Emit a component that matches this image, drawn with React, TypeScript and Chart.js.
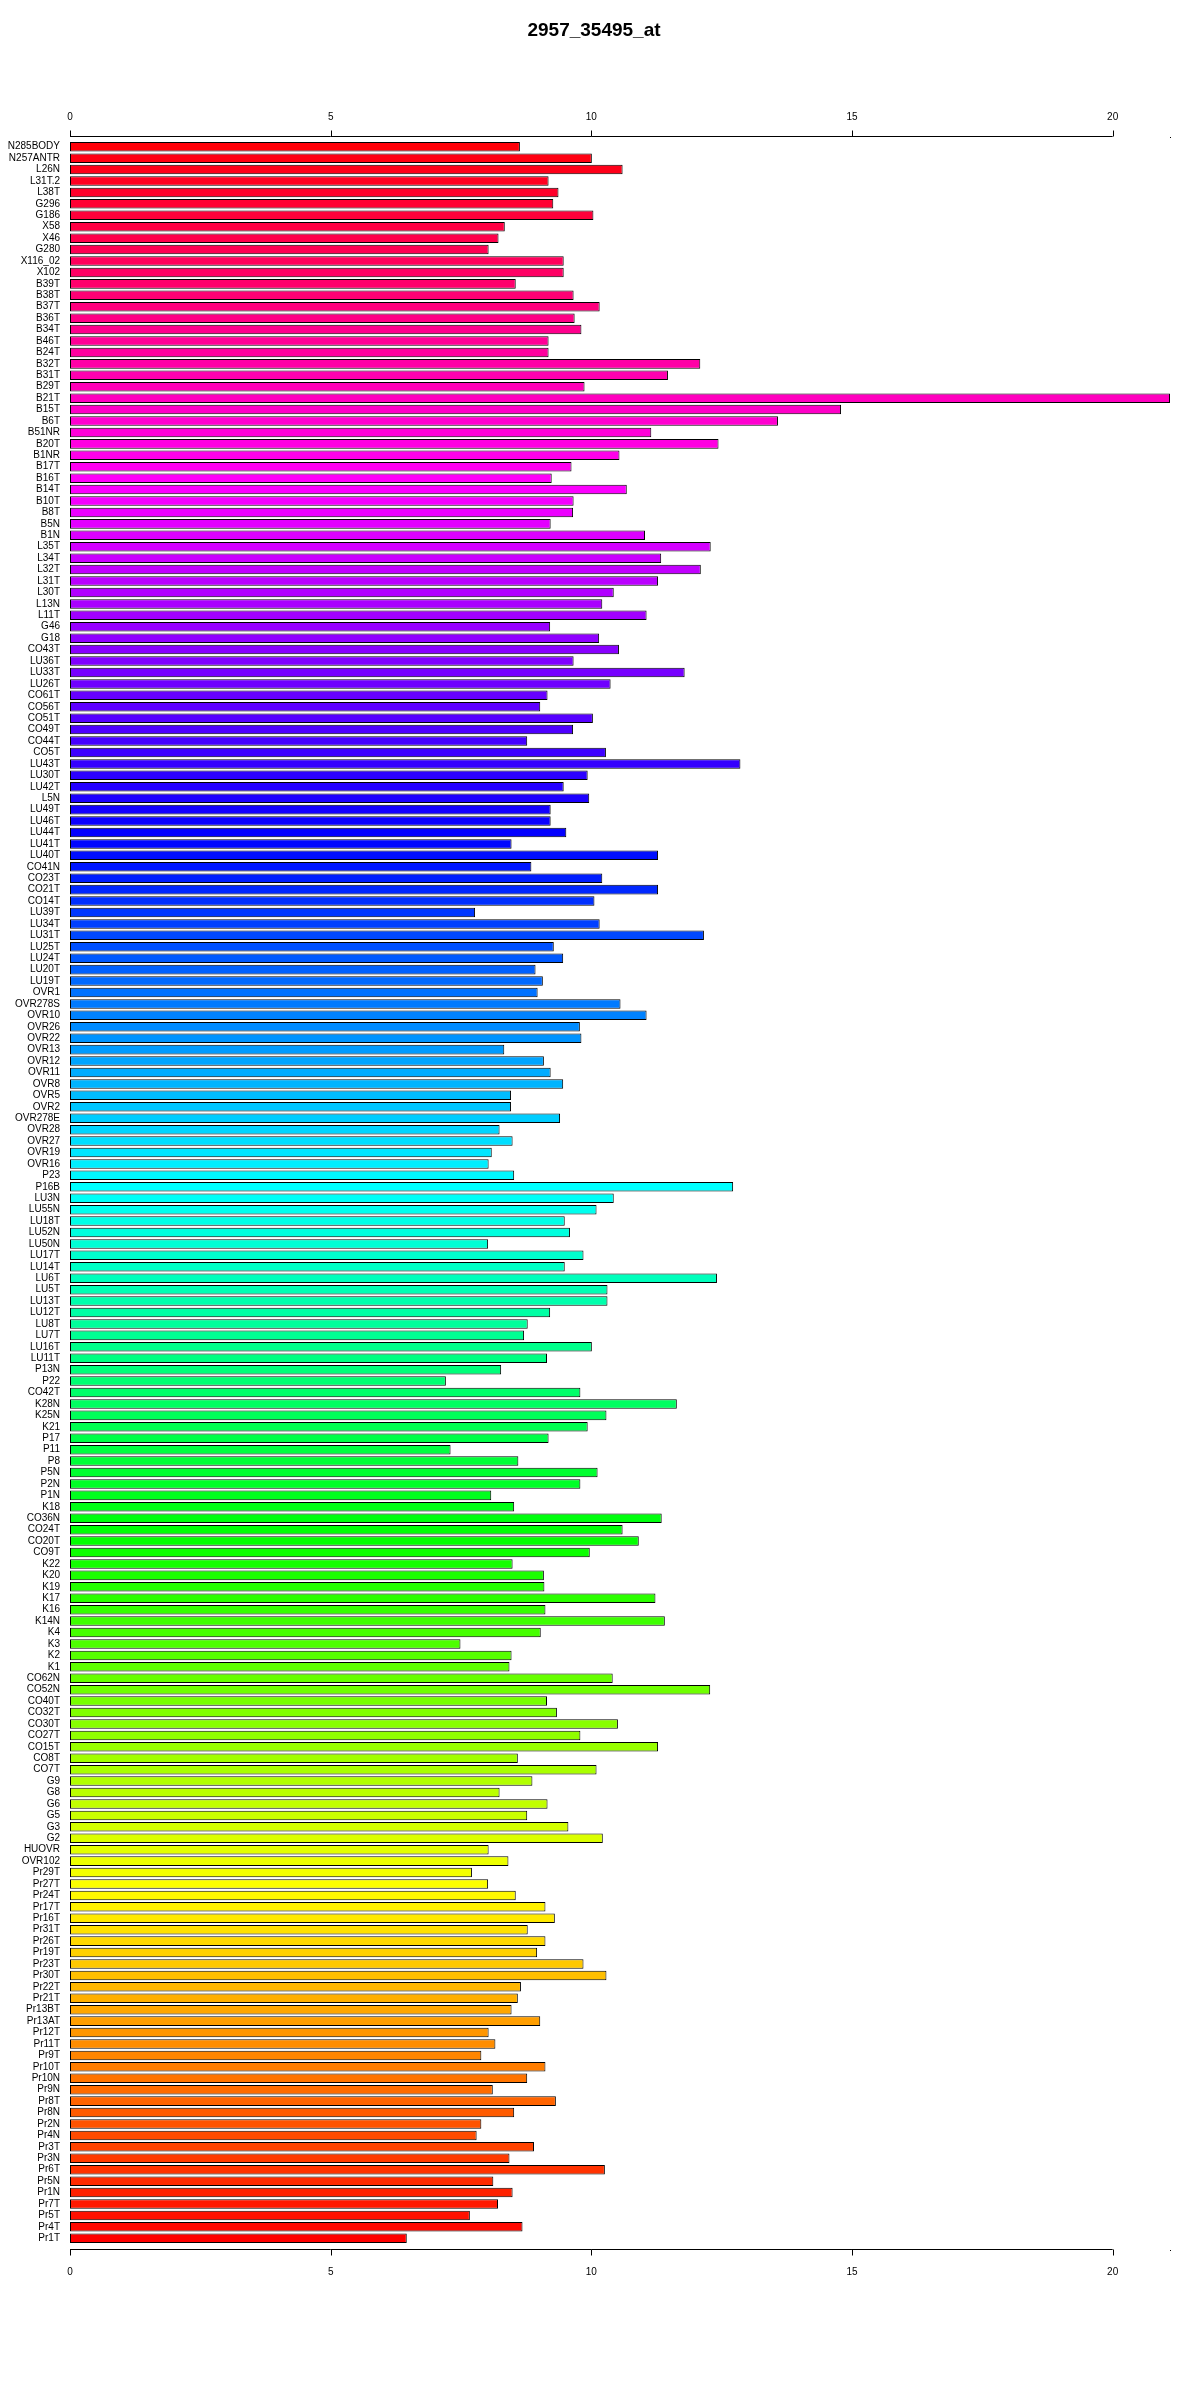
import React, { useEffect, useRef } from "react";
import { Chart, registerables } from "chart.js";

Chart.register(...registerables);

const chartTitle = "2957_35495_at";

const categories: string[] = [
  "N285BODY", "N257ANTR", "L26N", "L31T.2", "L38T", "G296", "G186", "X58", "X46", "G280",
  "X116_02", "X102", "B39T", "B38T", "B37T", "B36T", "B34T", "B46T", "B24T", "B32T",
  "B31T", "B29T", "B21T", "B15T", "B6T", "B51NR", "B20T", "B1NR", "B17T", "B16T",
  "B14T", "B10T", "B8T", "B5N", "B1N", "L35T", "L34T", "L32T", "L31T", "L30T",
  "L13N", "L11T", "G46", "G18", "CO43T", "LU36T", "LU33T", "LU26T", "CO61T", "CO56T",
  "CO51T", "CO49T", "CO44T", "CO5T", "LU43T", "LU30T", "LU42T", "L5N", "LU49T", "LU46T",
  "LU44T", "LU41T", "LU40T", "CO41N", "CO23T", "CO21T", "CO14T", "LU39T", "LU34T", "LU31T",
  "LU25T", "LU24T", "LU20T", "LU19T", "OVR1", "OVR278S", "OVR10", "OVR26", "OVR22", "OVR13",
  "OVR12", "OVR11", "OVR8", "OVR5", "OVR2", "OVR278E", "OVR28", "OVR27", "OVR19", "OVR16",
  "P23", "P16B", "LU3N", "LU55N", "LU18T", "LU52N", "LU50N", "LU17T", "LU14T", "LU6T",
  "LU5T", "LU13T", "LU12T", "LU8T", "LU7T", "LU16T", "LU11T", "P13N", "P22", "CO42T",
  "K28N", "K25N", "K21", "P17", "P11", "P8", "P5N", "P2N", "P1N", "K18",
  "CO36N", "CO24T", "CO20T", "CO9T", "K22", "K20", "K19", "K17", "K16", "K14N",
  "K4", "K3", "K2", "K1", "CO62N", "CO52N", "CO40T", "CO32T", "CO30T", "CO27T",
  "CO15T", "CO8T", "CO7T", "G9", "G8", "G6", "G5", "G3", "G2", "HUOVR",
  "OVR102", "Pr29T", "Pr27T", "Pr24T", "Pr17T", "Pr16T", "Pr31T", "Pr26T", "Pr19T", "Pr23T",
  "Pr30T", "Pr22T", "Pr21T", "Pr13BT", "Pr13AT", "Pr12T", "Pr11T", "Pr9T", "Pr10T", "Pr10N",
  "Pr9N", "Pr8T", "Pr8N", "Pr2N", "Pr4N", "Pr3T", "Pr3N", "Pr6T", "Pr5N", "Pr1N",
  "Pr7T", "Pr5T", "Pr4T", "Pr1T",
];

const expressionValues: number[] = [
  8.63, 10.01, 10.6, 9.18, 9.37, 9.27, 10.04, 8.34, 8.22, 8.03,
  9.47, 9.47, 8.55, 9.66, 10.16, 9.68, 9.81, 9.18, 9.18, 12.09,
  11.47, 9.87, 21.1, 14.79, 13.58, 11.15, 12.44, 10.54, 9.62, 9.24,
  10.68, 9.66, 9.65, 9.22, 11.03, 12.29, 11.34, 12.1, 11.28, 10.43,
  10.21, 11.06, 9.21, 10.15, 10.53, 9.66, 11.79, 10.37, 9.16, 9.02,
  10.03, 9.65, 8.77, 10.28, 12.86, 9.93, 9.47, 9.96, 9.22, 9.22,
  9.52, 8.47, 11.28, 8.85, 10.21, 11.28, 10.06, 7.77, 10.16, 12.16,
  9.28, 9.46, 8.93, 9.07, 8.97, 10.56, 11.06, 9.78, 9.81, 8.33,
  9.09, 9.22, 9.46, 8.46, 8.46, 9.4, 8.24, 8.49, 8.09, 8.03,
  8.52, 12.72, 10.43, 10.1, 9.49, 9.59, 8.02, 9.85, 9.49, 12.41,
  10.31, 10.31, 9.21, 8.78, 8.71, 10.01, 9.15, 8.27, 7.21, 9.79,
  11.64, 10.29, 9.93, 9.18, 7.3, 8.6, 10.12, 9.79, 8.08, 8.52,
  11.35, 10.6, 10.91, 9.97, 8.49, 9.09, 9.1, 11.23, 9.12, 11.41,
  9.03, 7.49, 8.47, 8.43, 10.41, 12.28, 9.15, 9.34, 10.51, 9.79,
  11.28, 8.59, 10.1, 8.87, 8.24, 9.16, 8.77, 9.56, 10.22, 8.03,
  8.41, 7.71, 8.02, 8.55, 9.12, 9.3, 8.78, 9.12, 8.96, 9.85,
  10.29, 8.65, 8.59, 8.47, 9.02, 8.03, 8.16, 7.89, 9.12, 8.77,
  8.11, 9.32, 8.52, 7.89, 7.8, 8.9, 8.43, 10.26, 8.12, 8.49,
  8.21, 7.67, 8.68, 6.46,
];

const axisTicks: number[] = [0, 5, 10, 15, 20];
const axisMax = 21.1;

// rainbow palette: bottom bar hue 0, rising towards the top
const barColors = categories.map((_, i) => {
  const n = categories.length;
  const hue = (360 * (n - 1 - i)) / n;
  return `hsl(${hue.toFixed(2)}, 100%, 50%)`;
});

const axesPlugin = {
  id: "rAxes",
  afterDraw(chart: any) {
    const ctx = chart.ctx;
    const xs = chart.scales.x;
    const { top, bottom } = chart.chartArea;
    const x0 = xs.getPixelForValue(axisTicks[0]);
    const x1 = xs.getPixelForValue(axisTicks[axisTicks.length - 1]);
    const topLine = Math.round(top - 5) + 0.5;
    const botLine = Math.round(bottom + 5) + 0.5;
    ctx.save();
    ctx.strokeStyle = "#000";
    ctx.lineWidth = 1;
    ctx.beginPath();
    ctx.moveTo(x0, topLine);
    ctx.lineTo(x1, topLine);
    ctx.moveTo(x0, botLine);
    ctx.lineTo(x1, botLine);
    axisTicks.forEach((t) => {
      const px = Math.round(xs.getPixelForValue(t)) + 0.5;
      ctx.moveTo(px, topLine);
      ctx.lineTo(px, topLine - 6);
      ctx.moveTo(px, botLine);
      ctx.lineTo(px, botLine + 6);
    });
    ctx.stroke();
    ctx.fillStyle = "#000";
    // small end marks at the far end of the value range
    const xe = Math.round(xs.getPixelForValue(axisMax));
    ctx.fillRect(xe, Math.round(topLine), 1, 1);
    ctx.fillRect(xe, Math.round(botLine), 1, 1);
    ctx.font = "10px 'Liberation Sans', Arial, sans-serif";
    ctx.textAlign = "center";
    ctx.textBaseline = "middle";
    axisTicks.forEach((t) => {
      const px = xs.getPixelForValue(t);
      ctx.fillText(String(t), px, topLine - 19);
      ctx.fillText(String(t), px, botLine + 23);
    });
    ctx.font = "bold 19px 'Liberation Sans', Arial, sans-serif";
    ctx.fillText(chartTitle, 594, 31);
    ctx.restore();
  },
};

export default function App() {
  const canvasRef = useRef<HTMLCanvasElement | null>(null);

  useEffect(() => {
    document.body.style.margin = "0";
    const canvas = canvasRef.current;
    if (!canvas) return;
    const chart = new Chart(canvas, {
      type: "bar",
      data: {
        labels: categories,
        datasets: [
          {
            data: expressionValues,
            backgroundColor: barColors,
            borderColor: "#000",
            borderWidth: 1,
            borderSkipped: false,
            barPercentage: 0.833,
            categoryPercentage: 1,
          },
        ],
      },
      plugins: [axesPlugin],
      options: {
        indexAxis: "y",
        animation: false,
        responsive: false,
        maintainAspectRatio: false,
        layout: { padding: { left: 0, right: 30, top: 141, bottom: 156 } },
        plugins: {
          legend: { display: false },
          title: { display: false },
          tooltip: { enabled: false },
        },
        scales: {
          x: {
            type: "linear",
            display: false,
            min: 0,
            max: axisMax,
          },
          y: {
            type: "category",
            position: "left",
            grid: { display: false, drawTicks: false },
            border: { display: false },
            afterFit: (scale: any) => {
              scale.width = 70;
            },
            ticks: {
              autoSkip: false,
              padding: 10,
              color: "#000",
              font: { family: "'Liberation Sans', Arial, sans-serif", size: 10 },
            },
          },
        },
      },
    });
    return () => chart.destroy();
  }, []);

  return (
    <div style={{ width: 1200, height: 2400, background: "#fff" }}>
      <canvas ref={canvasRef} width={1200} height={2400} style={{ display: "block" }} />
    </div>
  );
}
